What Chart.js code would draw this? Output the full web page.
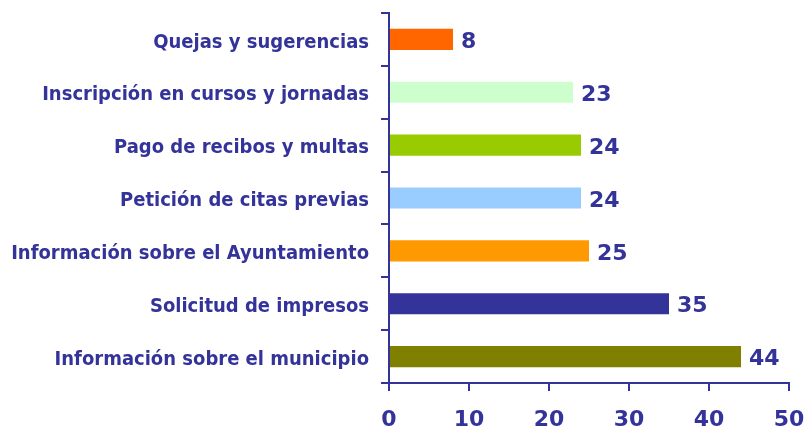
<!DOCTYPE html>
<html>
<head>
<meta charset="utf-8">
<script src="https://cdn.jsdelivr.net/npm/chart.js@4"></script>
<style>
  html, body { margin: 0; padding: 0; background: #fff; }
  #wrap { width: 804px; height: 431px; }
</style>
</head>
<body>
<div id="wrap"><canvas id="servicios"></canvas></div>
<script>
// datos
var categorias = [
  'Quejas y sugerencias',
  'Inscripción en cursos y jornadas',
  'Pago de recibos y multas',
  'Petición de citas previas',
  'Información sobre el Ayuntamiento',
  'Solicitud de impresos',
  'Información sobre el municipio'
];
var valores = [8, 23, 24, 24, 25, 35, 44];
var colores = ['#FF6600', '#CCFFCC', '#99CC00', '#99CCFF', '#FF9900', '#333399', '#808000'];
var ticksX = [0, 10, 20, 30, 40, 50];

var azul = '#333399';
var fuente = "'DejaVu Sans', Verdana, sans-serif";
var fuenteEstrecha = "'DejaVu Sans Condensed', 'DejaVu Sans', sans-serif";

// etiquetas de valor al final de cada barra
var etiquetas = {
  id: 'etiquetas',
  afterDatasetsDraw: function (chart) {
    var ctx = chart.ctx;
    var meta = chart.getDatasetMeta(0);
    ctx.save();
    ctx.fillStyle = azul;
    ctx.font = 'bold 22px ' + fuente;
    ctx.textAlign = 'left';
    ctx.textBaseline = 'middle';
    meta.data.forEach(function (bar, i) {
      ctx.fillText(String(valores[i]), bar.x + 8, bar.y + 3);
    });
    ctx.restore();
  }
};

var context = document.getElementById('servicios').getContext('2d');
var myChart = new Chart(context, {
  type: 'bar',
  data: {
    labels: categorias,
    datasets: [{
      data: valores,
      backgroundColor: colores,
      borderWidth: 0,
      barPercentage: 0.4,
      categoryPercentage: 1
    }]
  },
  options: {
    indexAxis: 'y',
    responsive: true,
    maintainAspectRatio: false,
    animation: false,
    layout: { padding: 0 },
    plugins: {
      legend: { display: false },
      tooltip: { enabled: false }
    },
    scales: {
      x: {
        min: 0,
        max: 50,
        afterBuildTicks: function (scale) {
          scale.ticks = ticksX.map(function (v) { return { value: v }; });
        },
        afterFit: function (scale) {
          scale.height = 48;
          scale.paddingLeft = 0;
          scale.paddingRight = 15;
        },
        border: { color: azul, width: 2 },
        grid: { drawOnChartArea: false, color: azul, lineWidth: 2, tickLength: 8 },
        ticks: {
          color: azul,
          padding: 16,
          font: { family: fuente, size: 22, weight: 'bold' }
        }
      },
      y: {
        afterFit: function (scale) {
          scale.width = 389;
          scale.paddingTop = 13;
          scale.paddingBottom = 0;
        },
        border: { color: azul, width: 2 },
        grid: { drawOnChartArea: false, color: azul, lineWidth: 2, tickLength: 8 },
        ticks: {
          color: azul,
          padding: 12,
          labelOffset: 3,
          font: { family: fuenteEstrecha, size: 20, weight: 'bold' }
        }
      }
    }
  },
  plugins: [etiquetas]
});
</script>
</body>
</html>
